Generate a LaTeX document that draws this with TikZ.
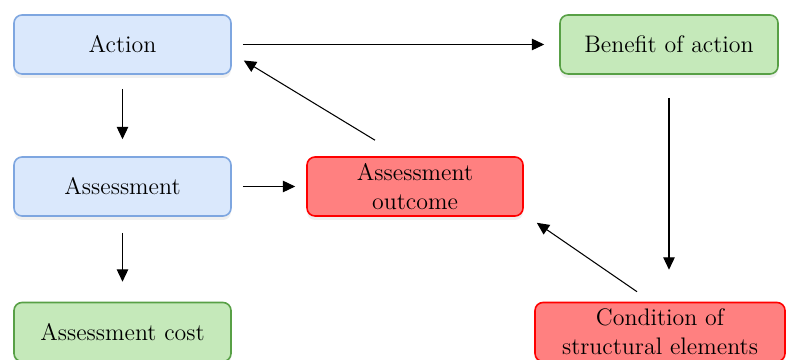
\documentclass[tikz,border=0pt]{standalone}
\usetikzlibrary{arrows.meta,shadows}

\definecolor{bluefill}{RGB}{218,232,252}
\definecolor{blueline}{RGB}{126,166,224}
\definecolor{greenfill}{RGB}{197,233,186}
\definecolor{greenline}{RGB}{88,160,70}
\definecolor{redfill}{RGB}{255,128,128}
\definecolor{redline}{RGB}{255,0,0}

\tikzset{
  box/.style={rounded corners=0.16cm, line width=0.9pt, minimum height=1.18cm,
    align=center, font=\fontsize{13.6}{16.5}\selectfont, inner sep=2pt,
    drop shadow={opacity=0.12, shadow xshift=0pt, shadow yshift=-0.08cm}},
  bluebox/.style={box, draw=blueline, fill=bluefill},
  greenbox/.style={box, draw=greenline, fill=greenfill},
  redbox/.style={box, draw=redline, fill=redfill},
  arr/.style={-{Triangle[length=7pt,width=6.5pt]}, line width=0.6pt}
}

\begin{document}
\begin{tikzpicture}
\useasboundingbox (0,0) rectangle (15.74,-7.2);

% left column
\node[bluebox, minimum width=4.34cm] (action) at (2.45,-0.89) {Action};
\node[bluebox, minimum width=4.34cm] (assess) at (2.45,-3.73) {Assessment};
\node[greenbox, minimum width=4.34cm] (cost) at (2.45,-6.64) {Assessment cost};

% middle and right
\node[redbox, minimum width=4.32cm] (outcome) at (8.30,-3.73) {Assessment\\outcome};
\node[greenbox, minimum width=4.36cm] (benefit) at (13.38,-0.89) {Benefit of action};
\node[redbox, minimum width=5.0cm] (cond) at (13.20,-6.64) {Condition of\\structural elements};

\draw[arr, shorten <=0.22cm, shorten >=0.30cm] (action) -- (benefit);
\draw[arr, shorten <=0.28cm, shorten >=0.34cm] (action) -- (assess);
\draw[arr, shorten <=0.32cm, shorten >=0.40cm] (assess) -- (cost);
\draw[arr, shorten <=0.22cm, shorten >=0.22cm] (assess) -- (outcome);
\draw[arr, shorten <=0.46cm, shorten >=0.64cm] (benefit.south) -- (benefit.south |- cond.north);
\draw[arr] ([xshift=-0.46cm, yshift=0.20cm]cond.north) -- ([xshift=0.26cm, yshift=-0.12cm]outcome.south east);
\draw[arr] ([xshift=-0.80cm, yshift=0.32cm]outcome.north) -- ([xshift=0.24cm, yshift=-0.32cm]action.east);

\end{tikzpicture}
\end{document}
